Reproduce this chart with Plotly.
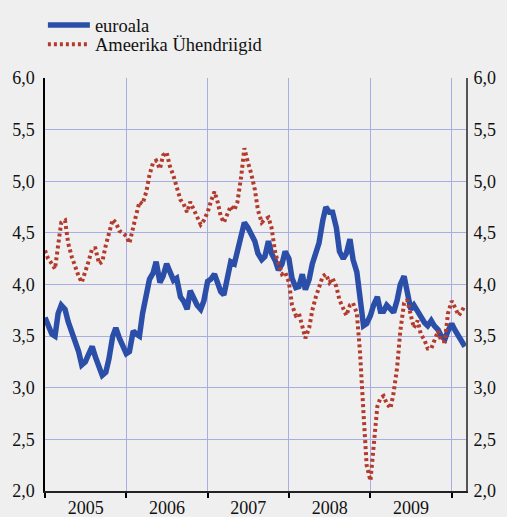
import pandas as pd
import plotly.graph_objects as go

# semi-monthly observation dates (1st and 15th of each month), Jan 2005 - Mar 2010
dates = pd.date_range("2005-01-01", periods=125, freq="SMS")

euroala = [
    3.68, 3.62, 3.52, 3.50, 3.72, 3.80, 3.76, 3.64, 3.55, 3.45, 3.35, 3.22,
    3.25, 3.32, 3.40, 3.30, 3.20, 3.12, 3.15, 3.28, 3.50, 3.58, 3.48, 3.40,
    3.33, 3.35, 3.55, 3.52, 3.50, 3.72, 3.88, 4.05, 4.11, 4.22, 4.02, 4.08,
    4.20, 4.14, 4.04, 4.06, 3.88, 3.84, 3.76, 3.94, 3.86, 3.80, 3.76, 3.84,
    4.03, 4.05, 4.10, 4.02, 3.93, 3.90, 4.08, 4.22, 4.20, 4.33, 4.48, 4.60,
    4.55, 4.50, 4.42, 4.30, 4.24, 4.27, 4.42, 4.30, 4.23, 4.14, 4.20, 4.32,
    4.25, 4.06, 3.97, 3.98, 4.10, 3.95, 4.05, 4.20, 4.29, 4.40, 4.62, 4.75,
    4.70, 4.70, 4.55, 4.32, 4.25, 4.30, 4.44, 4.24, 4.12, 3.90, 3.60, 3.62,
    3.70, 3.80, 3.88, 3.74, 3.74, 3.80, 3.77, 3.73, 3.85, 4.00, 4.08, 3.90,
    3.76, 3.80, 3.74, 3.67, 3.63, 3.60, 3.65, 3.60, 3.56, 3.50, 3.47, 3.55,
    3.62, 3.56, 3.49, 3.45, 3.40,
]

ameerika = [
    4.33, 4.25, 4.20, 4.15, 4.38, 4.60, 4.62, 4.40, 4.27, 4.18, 4.08, 4.02,
    4.12, 4.22, 4.35, 4.35, 4.20, 4.22, 4.38, 4.50, 4.63, 4.60, 4.52, 4.50,
    4.47, 4.40, 4.58, 4.68, 4.80, 4.78, 4.90, 5.06, 5.18, 5.20, 5.12, 5.25,
    5.28, 5.15, 5.05, 4.93, 4.82, 4.78, 4.70, 4.80, 4.72, 4.66, 4.58, 4.62,
    4.70, 4.80, 4.90, 4.80, 4.66, 4.60, 4.68, 4.76, 4.72, 4.80, 5.05, 5.32,
    5.18, 5.08, 4.92, 4.72, 4.60, 4.63, 4.65, 4.55, 4.30, 4.20, 4.10, 4.12,
    4.02, 3.80, 3.70, 3.72, 3.58, 3.48, 3.58, 3.75, 3.88, 3.97, 4.08, 4.10,
    4.02, 4.06, 3.98, 3.85, 3.76, 3.70, 3.80, 3.82, 3.72, 3.35, 2.75, 2.25,
    2.10, 2.45, 2.82, 2.90, 2.92, 2.85, 2.80, 2.95, 3.20, 3.55, 3.82, 3.85,
    3.70, 3.58, 3.65, 3.52, 3.46, 3.38, 3.38, 3.45, 3.55, 3.45, 3.45, 3.72,
    3.84, 3.78, 3.70, 3.74, 3.80,
]

series_names = ["euroala", "Ameerika Ühendriigid"]
x_range = ["2005-01-01", "2010-03-06"]
y_range = [2.0, 6.0]

BLUE = "#2b4fa8"
RED = "#b33b2e"
GRID = "#a9aee2"
BG = "#efefef"
FONT = "'Times New Roman', 'Liberation Serif', Tinos, serif"

fig = go.Figure()
fig.add_trace(go.Scatter(
    x=dates, y=euroala, name=series_names[0], mode="lines",
    line=dict(color=BLUE, width=5.5), legend="legend",
))
fig.add_trace(go.Scatter(
    x=dates, y=ameerika, name=series_names[1], mode="lines",
    line=dict(color=RED, width=4, dash="3px,3px"), yaxis="y2",
    legend="legend2",
))

leg_common = dict(
    xanchor="left", yanchor="middle", bgcolor="rgba(0,0,0,0)",
    font=dict(family=FONT, size=18.5, color="#111"), itemwidth=42,
)

fig.update_layout(
    width=507, height=517,
    margin=dict(l=45, r=41, t=78, b=26, autoexpand=False),
    paper_bgcolor=BG, plot_bgcolor=BG,
    font=dict(family=FONT, size=18, color="#111"),
    separators=", ",
    showlegend=True,
    legend=dict(x=-0.005, y=1.127, **leg_common),
    legend2=dict(x=-0.005, y=1.0806, **leg_common),
    xaxis=dict(
        type="date", range=x_range, dtick="M12", tick0="2005-01-01",
        tickformat="%Y", ticklabelmode="period",
        ticks="outside", ticklen=5, tickwidth=1.5, tickcolor="#000",
        showline=True, linecolor="#222", linewidth=2,
        showgrid=True, gridcolor=GRID, gridwidth=1, zeroline=False,
        fixedrange=True, tickfont=dict(family=FONT, size=18),
        ticklabelstandoff=-6,
    ),
    yaxis=dict(
        range=y_range, dtick=0.5, tick0=2.0, tickformat=".1f",
        showgrid=True, gridcolor=GRID, gridwidth=1,
        showline=True, linecolor="#000", linewidth=1.5,
        ticks="", zeroline=False, ticklabelstandoff=5,
        tickfont=dict(family=FONT, size=18),
    ),
    yaxis2=dict(
        range=y_range, dtick=0.5, tick0=2.0, tickformat=".1f",
        overlaying="y", side="right", showgrid=False,
        showline=True, linecolor="#555", linewidth=2,
        ticks="", zeroline=False, ticklabelstandoff=2,
        tickfont=dict(family=FONT, size=18),
    ),
)

fig.write_html(
    "out.html",
    config={"displayModeBar": False},
    post_script="document.body.style.margin='0';",
)
